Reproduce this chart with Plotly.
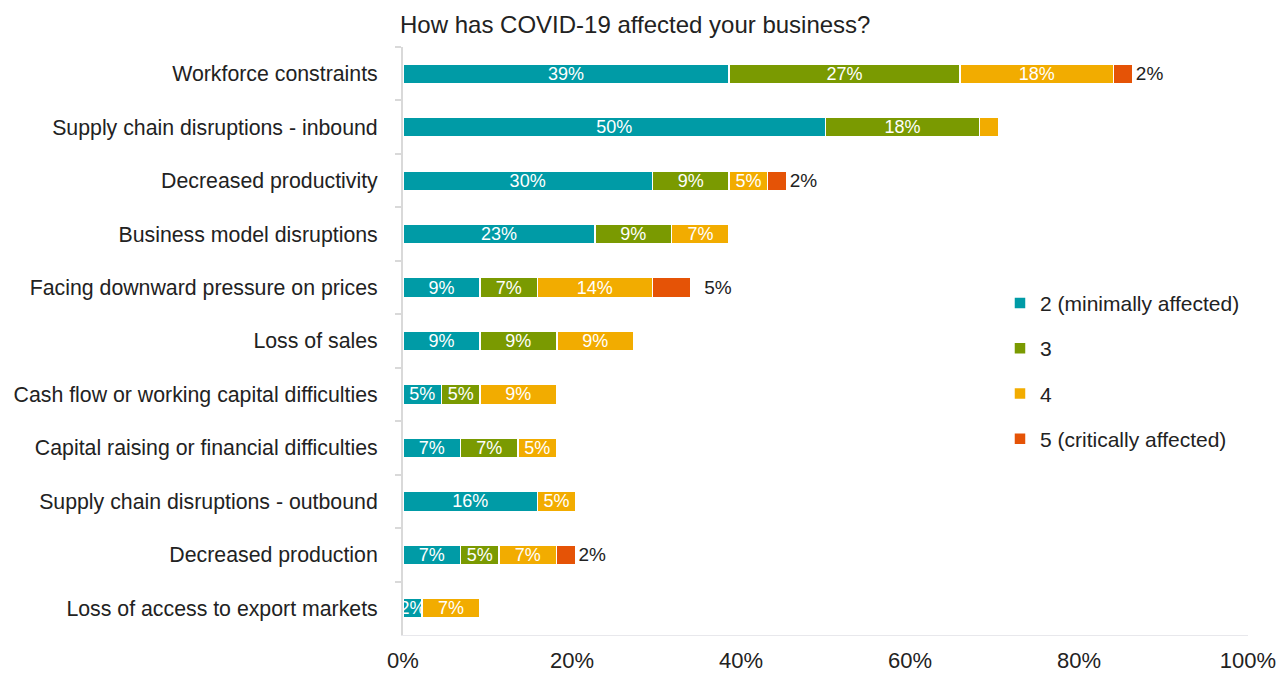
import plotly.graph_objects as go

# Categories, top to bottom
categories = [
    "Workforce constraints",
    "Supply chain disruptions - inbound",
    "Decreased productivity",
    "Business model disruptions",
    "Facing downward pressure on prices",
    "Loss of sales",
    "Cash flow or working capital difficulties",
    "Capital raising or financial difficulties",
    "Supply chain disruptions - outbound",
    "Decreased production",
    "Loss of access to export markets",
]

# Share of respondents (%) per impact level
level_2 = [38.6, 50.0, 29.5, 22.7, 9.1, 9.1, 4.55, 6.8, 15.9, 6.8, 2.27]
level_3 = [27.3, 18.2, 9.1, 9.1, 6.8, 9.1, 4.55, 6.8, None, 4.55, None]
level_4 = [18.2, 2.27, 4.55, 6.8, 13.6, 9.1, 9.1, 4.55, 4.55, 6.8, 6.8]
level_5 = [2.27, None, 2.27, None, 4.55, None, None, None, None, 2.27, None]

series_names = ["2 (minimally affected)", "3", "4", "5 (critically affected)"]
colors = ["#009ba6", "#7a9a01", "#f2ac00", "#e55306"]

FONT = "Liberation Sans"


def labels(values, hide=()):
    out = []
    for i, v in enumerate(values):
        if v is None or i in hide:
            out.append("")
        else:
            out.append(f"{v:.0f}%")
    return out


fig = go.Figure()

series = [level_2, level_3, level_4, level_5]
for i, (name, vals, col) in enumerate(zip(series_names, series, colors)):
    last = i == len(series) - 1
    txt = labels(vals, hide=(1,) if i == 2 else ())
    if last:
        # extra room before the downward-pressure label, as in the original
        txt = [("  " + t) if (t and k == 4) else t for k, t in enumerate(txt)]
    fig.add_trace(
        go.Bar(
            y=categories,
            x=vals,
            name=name,
            orientation="h",
            marker=dict(color=col, line=dict(color="white", width=1.5)),
            text=txt,
            textposition="outside" if last else "inside",
            insidetextanchor="middle",
            textangle=0,
            constraintext="none",
            textfont=dict(family=FONT, size=19 if last else 18,
                          color="#222222" if last else "white"),
            cliponaxis=False,
            legendgroup=name,
        )
    )

fig.update_layout(
    barmode="stack",
    bargap=0.63,
    width=1285,
    height=673,
    plot_bgcolor="white",
    paper_bgcolor="white",
    margin=dict(l=395, r=45, t=39, b=46),
    font=dict(family=FONT, size=21, color="#222222"),
    title=dict(
        text="How has COVID-19 affected your business?",
        font=dict(family=FONT, size=24, color="#222222"),
        x=392 / 1285,
        xanchor="left",
        y=0.976,
        yanchor="middle",
    ),
    xaxis=dict(
        range=[0, 100],
        tickvals=[0, 20, 40, 60, 80, 100],
        ticktext=["0%", "20%", "40%", "60%", "80%", "100%"],
        showgrid=False,
        zeroline=False,
        showline=True,
        linecolor="#e8e8ec",
        linewidth=1,
        ticks="",
        ticklen=0,
        ticklabelstandoff=6,
        tickfont=dict(size=22),
        automargin=False,
    ),
    yaxis=dict(
        autorange="reversed",
        showgrid=False,
        showline=True,
        linecolor="#d9d9d9",
        linewidth=2,
        ticks="outside",
        tickson="boundaries",
        ticklen=6,
        tickcolor="#d9d9d9",
        tickwidth=1.5,
        ticklabelstandoff=19,
        tickfont=dict(size=21.3),
        automargin=False,
    ),
    legend=dict(
        x=0.7065,
        y=0.599,
        xanchor="left",
        yanchor="top",
        traceorder="grouped",
        tracegroupgap=15,
        font=dict(size=21),
        bgcolor="rgba(0,0,0,0)",
    ),
    showlegend=True,
)

fig.write_html("out.html")
